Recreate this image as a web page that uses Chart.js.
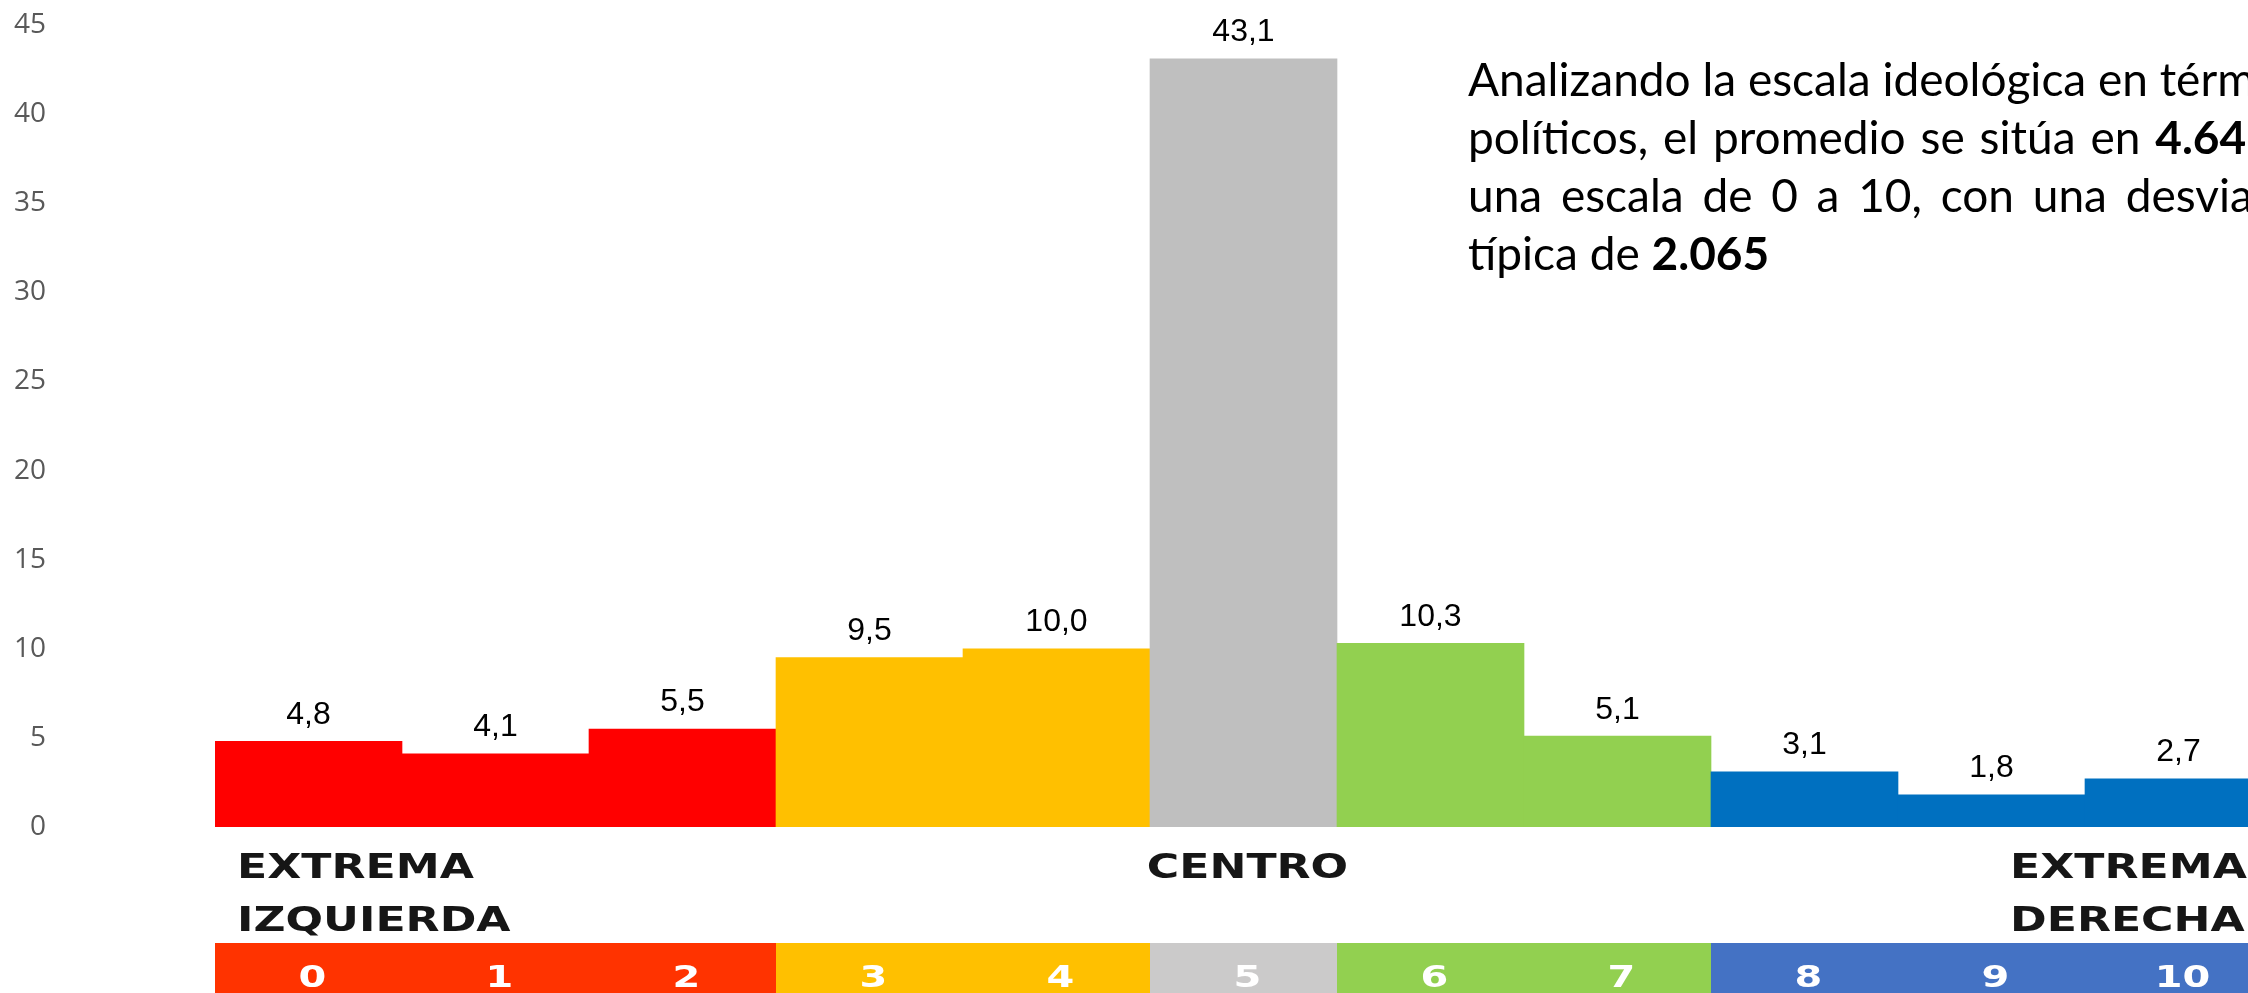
<!DOCTYPE html>
<html>
<head>
<meta charset="utf-8">
<title>Escala ideológica</title>
<script src="https://cdn.jsdelivr.net/npm/chart.js@4.4.1/dist/chart.umd.min.js"></script>
<style>
  html, body { margin: 0; padding: 0; background: #fff; overflow: hidden; width: 2248px; height: 993px; }
  #wrap { position: absolute; left: 0; top: 0; width: 2700px; height: 993px; }
</style>
</head>
<body>
<div id="wrap"><canvas id="chart" width="2700" height="993"></canvas></div>
<script>
// Ideological self-placement, 0 (extreme left) to 10 (extreme right), % of respondents
const categories = ['0', '1', '2', '3', '4', '5', '6', '7', '8', '9', '10'];
const values = [4.8, 4.1, 5.5, 9.5, 10.0, 43.1, 10.3, 5.1, 3.1, 1.8, 2.7];
const yTicks = [0, 5, 10, 15, 20, 25, 30, 35, 40, 45];

const barColors = ['#FF0000', '#FF0000', '#FF0000', '#FFC000', '#FFC000', '#BFBFBF',
                   '#92D050', '#92D050', '#0070C0', '#0070C0', '#0070C0'];
const bandColors = ['#FF3300', '#FF3300', '#FF3300', '#FFC000', '#FFC000', '#CBCACA',
                    '#92D050', '#92D050', '#4472C4', '#4472C4', '#4472C4'];

const groupLeft = ['EXTREMA', 'IZQUIERDA'];
const groupCenter = ['CENTRO'];
const groupRight = ['EXTREMA', 'DERECHA'];

// Note text, one entry per line; each segment is [text, bold]
const noteLines = [
  [['Analizando la escala ideológica en términos', false]],
  [['políticos, el promedio se sitúa en', false], ['4.647', true], ['en', false]],
  [['una escala de 0 a 10, con una desviación', false]],
  [['típica de', false], ['2.065', true]]
];

const fmt = v => v.toFixed(1).replace('.', ',');

// Value labels above each bar
const barLabels = {
  id: 'barLabels',
  afterDatasetsDraw(chart) {
    const ctx = chart.ctx;
    const meta = chart.getDatasetMeta(0);
    ctx.save();
    ctx.font = '32px "Liberation Sans", Arial, sans-serif';
    ctx.fillStyle = '#000';
    ctx.textAlign = 'center';
    ctx.textBaseline = 'alphabetic';
    meta.data.forEach((bar, i) => {
      ctx.fillText(fmt(values[i]), bar.x, bar.y - 17.5);
    });
    ctx.restore();
  }
};

// Coloured 0-10 strip and the group captions under the plot
const scaleBand = {
  id: 'scaleBand',
  afterDraw(chart) {
    const ctx = chart.ctx;
    const bars = chart.getDatasetMeta(0).data;
    const top = 943, bottom = chart.height;
    ctx.save();
    ctx.filter = 'blur(0.5px)';
    bars.forEach((bar, i) => {
      const l = Math.round(bar.x - bar.width / 2);
      const r = Math.round(bar.x + bar.width / 2);
      ctx.fillStyle = bandColors[i];
      ctx.fillRect(l, top, r - l, bottom - top);
    });
    ctx.font = 'bold 30px "DejaVu Sans", Verdana, sans-serif';
    ctx.fillStyle = '#fff';
    ctx.textAlign = 'center';
    ctx.textBaseline = 'alphabetic';
    bars.forEach((bar, i) => {
      ctx.save();
      ctx.translate(bar.x + 4, 987);
      ctx.scale(1.33, 1);
      ctx.fillText(categories[i], 0, 0);
      ctx.restore();
    });

    ctx.font = 'bold 34px "DejaVu Sans", Verdana, sans-serif';
    ctx.fillStyle = '#161616';
    const stretch = 1.3;
    const baselines = [878, 931];
    const drawLines = (lines, x, align) => {
      lines.forEach((t, k) => {
        ctx.save();
        ctx.translate(x, baselines[k]);
        ctx.scale(stretch, 1);
        ctx.textAlign = align;
        ctx.fillText(t, 0, 0);
        ctx.restore();
      });
    };
    drawLines(groupLeft, bars[0].x - bars[0].width / 2 + 22, 'left');
    drawLines(groupCenter, bars[5].x + 4, 'center');
    drawLines(groupRight, bars[9].x - bars[9].width / 2 + 112, 'left');
    ctx.restore();
  }
};

// Justified explanatory note in the upper right
const note = {
  id: 'note',
  afterDraw(chart) {
    const ctx = chart.ctx;
    const x0 = 1468, base0 = 96, lh = 58, size = 46;
    const fontN = `${size}px Lato, "Open Sans", sans-serif`;
    const fontB = `bold ${size}px Lato, "Open Sans", sans-serif`;
    const lines = noteLines.map(segs => {
      const words = [];
      segs.forEach(([t, b]) => t.split(' ').filter(Boolean).forEach(w => words.push({ w, b })));
      words.forEach(o => { ctx.font = o.b ? fontB : fontN; o.width = ctx.measureText(o.w).width; });
      return words;
    });
    ctx.save();
    ctx.font = fontN;
    const space = ctx.measureText(' ').width;
    const natural = ws => ws.reduce((s, o) => s + o.width, 0) + space * (ws.length - 1);
    const W = natural(lines[0]);
    ctx.fillStyle = '#000';
    ctx.textBaseline = 'alphabetic';
    ctx.textAlign = 'left';
    lines.forEach((ws, k) => {
      const last = k === lines.length - 1;
      const sum = ws.reduce((s, o) => s + o.width, 0);
      const gap = last ? space : (W - sum) / (ws.length - 1);
      let x = x0;
      ws.forEach(o => {
        ctx.font = o.b ? fontB : fontN;
        ctx.fillText(o.w, x, base0 + k * lh);
        x += o.width + gap;
      });
    });
    ctx.restore();
  }
};

const chart = new Chart(document.getElementById('chart'), {
  type: 'bar',
  data: {
    labels: categories,
    datasets: [{
      data: values,
      backgroundColor: barColors,
      borderWidth: 0,
      barPercentage: 1,
      categoryPercentage: 1
    }]
  },
  options: {
    responsive: false,
    animation: false,
    devicePixelRatio: 1,
    layout: { padding: { top: 25, right: 428, bottom: 166, left: 0 } },
    plugins: { legend: { display: false }, tooltip: { enabled: false } },
    scales: {
      x: { display: false },
      y: {
        min: 0,
        max: 45,
        afterFit(scale) {
          // labels sit far left of the plot; keep the plot height independent of that gap
          scale.width = 215;
          scale.paddingTop = 0;
          scale.paddingBottom = 0;
        },
        afterBuildTicks(scale) { scale.ticks = yTicks.map(v => ({ value: v })); },
        border: { display: false },
        grid: { display: false, drawTicks: false },
        ticks: {
          padding: 169,
          color: '#595959',
          font: { family: '"Open Sans", sans-serif', size: 28 }
        }
      }
    }
  },
  plugins: [barLabels, scaleBand, note]
});

if (document.fonts && document.fonts.ready) {
  document.fonts.ready.then(() => chart.update());
}
</script>
</body>
</html>
